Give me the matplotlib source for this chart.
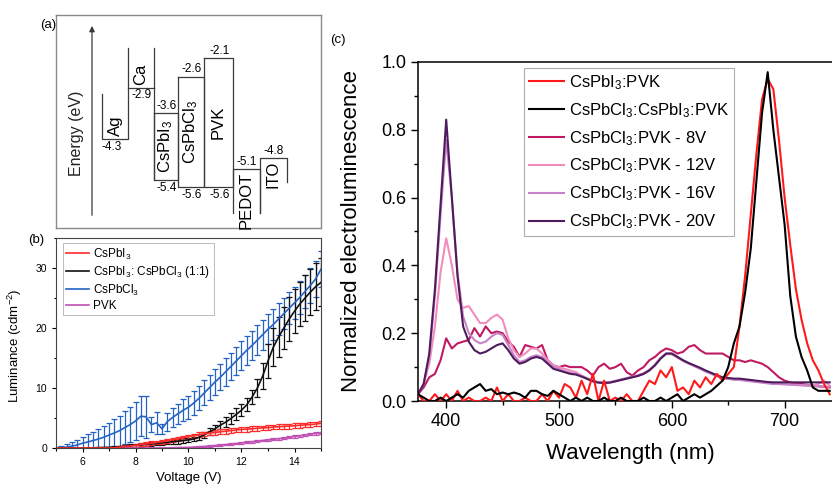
import matplotlib
matplotlib.use("Agg")
import matplotlib.pyplot as plt
from matplotlib.ticker import MultipleLocator, FormatStrFormatter

plt.rcParams['font.family'] = ['Liberation Sans', 'DejaVu Sans']
plt.rcParams['mathtext.fontset'] = 'custom'
plt.rcParams['mathtext.rm'] = 'Liberation Sans'
plt.rcParams['mathtext.default'] = 'regular'

# ---------------- (a) energy levels (eV) ----------------
layers = ['Ag', 'Ca', 'CsPbI$_3$', 'CsPbCl$_3$', 'PVK', 'PEDOT', 'ITO']
lumo = [None, None, -3.6, -2.6, -2.1, None, None]
homo = [None, None, -5.4, -5.6, -5.6, None, None]
work_fn = [-4.3, -2.9, None, None, None, -5.1, -4.8]

# ---------------- (b) luminance vs voltage ----------------
voltage = [5.0, 5.2, 5.4, 5.6, 5.8, 6.0, 6.2, 6.4, 6.6, 6.8, 7.0, 7.2, 7.4, 7.6, 7.8,
           8.0, 8.2, 8.4, 8.6, 8.8, 9.0, 9.2, 9.4, 9.6, 9.8, 10.0, 10.2, 10.4, 10.6, 10.8,
           11.0, 11.2, 11.4, 11.6, 11.8, 12.0, 12.2, 12.4, 12.6, 12.8, 13.0, 13.2, 13.4,
           13.6, 13.8, 14.0, 14.2, 14.4, 14.6, 14.8, 15.0]
lum_cl = [0.0, 0.05, 0.15, 0.3, 0.5, 0.8, 1.0, 1.25, 1.5, 1.8, 2.15, 2.5, 2.9, 3.4, 3.9,
          4.5, 5.3, 5.2, 3.9, 4.2, 3.2, 4.4, 5.1, 5.7, 6.3, 6.8, 7.5, 8.3, 9.2, 10.1,
          11.0, 11.8, 12.7, 13.6, 14.5, 15.4, 16.3, 17.1, 18.0, 18.9, 19.8, 20.6, 21.5,
          22.4, 23.3, 24.2, 25.1, 26.1, 27.1, 28.2, 29.8]
err_cl = [0.1, 0.3, 0.5, 0.7, 0.9, 1.1, 1.3, 1.5, 1.7, 1.9, 2.1, 2.3, 2.5, 2.7, 2.9,
          3.1, 3.3, 3.5, 1.2, 1.8, 0.8, 1.5, 1.6, 1.7, 1.8, 1.9, 2.0, 2.0, 2.1, 2.1,
          2.2, 2.2, 2.3, 2.3, 2.3, 2.4, 2.4, 2.4, 2.5, 2.5, 2.5, 2.6, 2.6, 2.6, 2.7,
          2.7, 2.8, 2.8, 2.9, 3.0, 3.0]
lum_mix = [0.0, 0.0, 0.0, 0.0, 0.0, 0.0, 0.0, 0.02, 0.05, 0.08, 0.1, 0.15, 0.2, 0.3, 0.4,
           0.45, 0.5, 0.6, 0.65, 0.75, 0.85, 0.95, 1.05, 1.15, 1.25, 1.35, 1.5, 1.8, 2.2, 2.7,
           3.2, 3.8, 4.3, 4.9, 5.6, 6.3, 7.2, 8.5, 10.0, 12.0, 14.5, 16.8, 18.5,
           20.0, 21.5, 22.8, 24.0, 25.0, 26.0, 26.9, 27.6]
err_mix = [0.0, 0.0, 0.0, 0.0, 0.0, 0.0, 0.0, 0.05, 0.05, 0.1, 0.1, 0.2, 0.2, 0.2, 0.25,
           0.25, 0.3, 0.3, 0.3, 0.3, 0.35, 0.35, 0.35, 0.4, 0.4, 0.4, 0.4, 0.5, 0.5, 0.6,
           0.6, 0.7, 0.8, 0.9, 1.0, 1.0, 1.1, 1.2, 1.5, 2.2, 2.8, 3.2, 3.3,
           3.5, 3.6, 3.7, 3.7, 3.8, 3.8, 3.9, 4.0]
lum_i = [0.0, 0.0, 0.0, 0.0, 0.0, 0.0, 0.0, 0.0, 0.0, 0.0, 0.0, 0.05, 0.15, 0.25, 0.35,
         0.45, 0.55, 0.68, 0.8, 0.92, 1.05, 1.2, 1.35, 1.5, 1.7, 1.9, 2.05, 2.2, 2.35, 2.5,
         2.6, 2.7, 2.8, 2.9, 3.0, 3.1, 3.15, 3.2, 3.3, 3.35, 3.4, 3.5, 3.55,
         3.6, 3.65, 3.7, 3.8, 3.85, 3.9, 4.0, 4.1]
err_i = [0.0, 0.0, 0.0, 0.0, 0.0, 0.0, 0.0, 0.0, 0.0, 0.0, 0.0, 0.1, 0.15, 0.2, 0.2,
         0.25, 0.25, 0.3, 0.3, 0.3, 0.3, 0.3, 0.35, 0.35, 0.35, 0.35, 0.35, 0.4, 0.4, 0.4,
         0.4, 0.4, 0.4, 0.4, 0.4, 0.4, 0.4, 0.4, 0.4, 0.4, 0.4, 0.4, 0.4,
         0.4, 0.4, 0.4, 0.4, 0.4, 0.4, 0.4, 0.4]
lum_pvk = [0.0, 0.0, 0.0, 0.0, 0.0, 0.0, 0.0, 0.0, 0.0, 0.0, 0.0, 0.0, 0.0, 0.0, 0.0,
           0.0, 0.0, 0.0, 0.0, 0.0, 0.0, 0.02, 0.04, 0.06, 0.08, 0.1, 0.15, 0.2, 0.25, 0.32,
           0.4, 0.48, 0.56, 0.65, 0.75, 0.85, 0.95, 1.05, 1.15, 1.25, 1.35, 1.45, 1.55,
           1.65, 1.78, 1.92, 2.05, 2.17, 2.3, 2.42, 2.55]
err_pvk = [0.0, 0.0, 0.0, 0.0, 0.0, 0.0, 0.0, 0.0, 0.0, 0.0, 0.0, 0.0, 0.0, 0.0, 0.0,
           0.0, 0.0, 0.0, 0.0, 0.0, 0.0, 0.05, 0.05, 0.05, 0.05, 0.08, 0.08, 0.1, 0.1, 0.1,
           0.12, 0.12, 0.12, 0.14, 0.14, 0.15, 0.15, 0.15, 0.16, 0.16, 0.17, 0.17, 0.18,
           0.18, 0.18, 0.19, 0.19, 0.2, 0.2, 0.2, 0.2]

# ---------------- (c) normalized EL spectra ----------------
wavelength = [375, 380, 385, 390, 395, 400, 405, 410, 415, 420, 425, 430, 435, 440, 445,
              450, 455, 460, 465, 470, 475, 480, 485, 490, 495, 500, 505, 510, 515, 520,
              525, 530, 535, 540, 545, 550, 555, 560, 565, 570, 575, 580, 585, 590, 595,
              600, 605, 610, 615, 620, 625, 630, 635, 640, 645, 650, 655, 660, 665, 670,
              675, 680, 685, 690, 695, 700, 705, 710, 715, 720, 725, 730, 735, 740]
el_i = [0.02, 0.0, 0.0, 0.02, 0.0, 0.02, 0.0, 0.03, 0.0, 0.01, 0.0, 0.0, 0.01, 0.0, 0.04,
        0.0, 0.02, 0.0, 0.0, 0.01, 0.0, 0.0, 0.02, 0.0, 0.03, 0.01, 0.05, 0.04, 0.01, 0.06,
        0.02, 0.08, 0.0, 0.06, 0.0, 0.01, 0.0, 0.02, 0.0, 0.0, 0.03, 0.06, 0.05, 0.09, 0.07,
        0.1, 0.03, 0.04, 0.02, 0.06, 0.04, 0.07, 0.05, 0.08, 0.06, 0.08, 0.1, 0.22, 0.37, 0.55,
        0.73, 0.89, 0.95, 0.92, 0.77, 0.6, 0.46, 0.33, 0.24, 0.17, 0.12, 0.09, 0.05, 0.02]
el_mix = [0.02, 0.01, 0.0, 0.0, 0.01, 0.0, 0.01, 0.02, 0.01, 0.03, 0.04, 0.05, 0.03, 0.035, 0.02,
          0.025, 0.02, 0.025, 0.02, 0.01, 0.03, 0.03, 0.02, 0.015, 0.03, 0.02, 0.01, 0.0, 0.01, 0.0,
          0.01, 0.0, 0.0, 0.01, 0.0, 0.0, 0.01, 0.0, 0.0, 0.0, 0.01, 0.0, 0.0, 0.01, 0.0,
          0.01, 0.02, 0.0, 0.01, 0.02, 0.01, 0.02, 0.03, 0.045, 0.06, 0.1, 0.17, 0.22, 0.32, 0.45,
          0.65, 0.85, 0.97, 0.8, 0.66, 0.52, 0.31, 0.19, 0.13, 0.09, 0.04, 0.03, 0.03, 0.03]
el_8v = [0.02, 0.04, 0.07, 0.08, 0.12, 0.185, 0.155, 0.17, 0.175, 0.18, 0.215, 0.19, 0.22, 0.2, 0.205,
         0.2, 0.175, 0.16, 0.13, 0.165, 0.16, 0.155, 0.165, 0.12, 0.105, 0.1, 0.105, 0.1, 0.1, 0.1,
         0.09, 0.075, 0.1, 0.11, 0.095, 0.1, 0.11, 0.085, 0.075, 0.09, 0.1, 0.12, 0.13, 0.145, 0.155,
         0.15, 0.14, 0.145, 0.16, 0.165, 0.15, 0.14, 0.14, 0.14, 0.14, 0.13, 0.12, 0.12, 0.115, 0.12,
         0.115, 0.11, 0.1, 0.085, 0.07, 0.06, 0.055, 0.05, 0.05, 0.048, 0.045, 0.043, 0.042, 0.04]
el_12v = [0.02, 0.05, 0.11, 0.22, 0.38, 0.48, 0.4, 0.3, 0.275, 0.28, 0.255, 0.23, 0.23, 0.245, 0.255,
          0.24, 0.185, 0.15, 0.13, 0.14, 0.155, 0.155, 0.14, 0.12, 0.105, 0.1, 0.095, 0.09, 0.085, 0.075,
          0.067, 0.06, 0.055, 0.054, 0.055, 0.058, 0.062, 0.066, 0.07, 0.074, 0.08, 0.09, 0.105, 0.125, 0.138,
          0.138, 0.128, 0.118, 0.11, 0.103, 0.096, 0.088, 0.081, 0.074, 0.068, 0.066, 0.064, 0.063, 0.062, 0.06,
          0.058, 0.056, 0.054, 0.052, 0.05, 0.05, 0.049, 0.048, 0.047, 0.046, 0.046, 0.05, 0.06, 0.045]
el_16v = [0.02, 0.05, 0.13, 0.31, 0.55, 0.77, 0.6, 0.38, 0.25, 0.2, 0.18, 0.17, 0.175, 0.19, 0.2,
          0.195, 0.165, 0.135, 0.115, 0.12, 0.13, 0.135, 0.13, 0.115, 0.1, 0.095, 0.088, 0.083, 0.08, 0.074,
          0.067, 0.06, 0.056, 0.055, 0.056, 0.06, 0.064, 0.068, 0.072, 0.076, 0.082, 0.092, 0.107, 0.127, 0.14,
          0.14, 0.13, 0.12, 0.111, 0.103, 0.095, 0.087, 0.08, 0.073, 0.068, 0.065, 0.063, 0.062, 0.06, 0.058,
          0.056, 0.054, 0.052, 0.05, 0.05, 0.049, 0.048, 0.047, 0.046, 0.045, 0.045, 0.044, 0.043, 0.042]
el_20v = [0.02, 0.05, 0.14, 0.33, 0.58, 0.83, 0.6, 0.37, 0.22, 0.175, 0.15, 0.14, 0.145, 0.155, 0.165,
          0.17, 0.15, 0.125, 0.11, 0.115, 0.125, 0.13, 0.125, 0.11, 0.095, 0.09, 0.085, 0.08, 0.078, 0.072,
          0.065, 0.058, 0.054, 0.053, 0.054, 0.058, 0.062, 0.066, 0.07, 0.074, 0.08, 0.09, 0.105, 0.125, 0.14,
          0.14, 0.13, 0.12, 0.112, 0.105, 0.098, 0.09, 0.083, 0.076, 0.07, 0.068, 0.066, 0.066, 0.064, 0.062,
          0.06, 0.058, 0.056, 0.055, 0.055, 0.055, 0.055, 0.055, 0.055, 0.055, 0.055, 0.055, 0.055, 0.055]

fig = plt.figure(figsize=(8.32, 4.84), dpi=100)
W, H = 832, 484


def px_axes(left, top, right, bottom):
    return fig.add_axes([left / W, 1 - bottom / H, (right - left) / W, (bottom - top) / H])


# ======================= panel (a) =======================
ax_a = px_axes(56, 15, 321, 228)
ax_a.set_xlim(0, 265)
ax_a.set_ylim(-6.71, -0.93)
ax_a.set_xticks([])
ax_a.set_yticks([])
for s in ax_a.spines.values():
    s.set_color('#8a8a8a')
    s.set_linewidth(1.0)

lc = '#3a3a3a'
lw = 0.9
# column edges (layout only)
edges = [46, 72, 98, 122, 148, 177, 204, 231]
open_top = -1.83

# Ag
ax_a.plot([edges[0], edges[0], edges[1], edges[1]], [-3.08, work_fn[0], work_fn[0], open_top], color=lc, lw=lw)
# Ca
ax_a.plot([edges[1], edges[2]], [work_fn[1], work_fn[1]], color=lc, lw=lw)
ax_a.plot([edges[2], edges[2]], [open_top, homo[2]], color=lc, lw=lw)
# perovskites and PVK boxes
for i in (2, 3, 4):
    x0, x1 = edges[i], edges[i + 1]
    ax_a.plot([x0, x1, x1, x0, x0], [lumo[i], lumo[i], homo[i], homo[i], lumo[i]], color=lc, lw=lw)
# PEDOT
ax_a.plot([edges[5], edges[5], edges[6], edges[6]], [-6.31, work_fn[5], work_fn[5], -6.31], color=lc, lw=lw)
# ITO
ax_a.plot([edges[6], edges[6], edges[7], edges[7]], [-6.31, work_fn[6], work_fn[6], -5.46], color=lc, lw=lw)

# arrow
ax_a.annotate('', xy=(36, -1.15), xytext=(36, -6.44),
              arrowprops=dict(arrowstyle='-|>', color=lc, lw=0.9, mutation_scale=8))
ax_a.text(21, -4.13, 'Energy (eV)', rotation=90, ha='center', va='center', fontsize=11.5, color='#222')

vfs = 8.5
ax_a.text(edges[0], work_fn[0] - 0.05, '-4.3', ha='left', va='top', fontsize=vfs)
ax_a.text((edges[1] + edges[2]) / 2 + 1, work_fn[1] - 0.05, '-2.9', ha='center', va='top', fontsize=vfs)
for i in (2, 3, 4):
    cx = (edges[i] + edges[i + 1]) / 2 + 1
    ax_a.text(cx, lumo[i] + 0.03, f'{lumo[i]:.1f}', ha='center', va='bottom', fontsize=vfs)
    ax_a.text(cx, homo[i] - 0.05, f'{homo[i]:.1f}', ha='center', va='top', fontsize=vfs)
ax_a.text((edges[5] + edges[6]) / 2, work_fn[5] + 0.03, '-5.1', ha='center', va='bottom', fontsize=vfs)
ax_a.text((edges[6] + edges[7]) / 2, work_fn[6] + 0.03, '-4.8', ha='center', va='bottom', fontsize=vfs)

lfs = 12
ax_a.text((edges[0] + edges[1]) / 2, work_fn[0] + 0.08, layers[0], rotation=90, ha='center', va='bottom', fontsize=lfs)
ax_a.text((edges[1] + edges[2]) / 2, work_fn[1] + 0.08, layers[1], rotation=90, ha='center', va='bottom', fontsize=lfs)
for i in (2, 3, 4):
    ax_a.text((edges[i] + edges[i + 1]) / 2, (lumo[i] + homo[i]) / 2, layers[i], rotation=90,
              ha='center', va='center', fontsize=lfs)
ax_a.text((edges[5] + edges[6]) / 2, work_fn[5] - 0.08, layers[5], rotation=90, ha='center', va='top', fontsize=lfs)
ax_a.text((edges[6] + edges[7]) / 2, work_fn[6] - 0.08, layers[6], rotation=90, ha='center', va='top', fontsize=lfs)

fig.text(40 / W, 1 - 25 / H, '(a)', fontsize=9.5, ha='left', va='center')

# ======================= panel (b) =======================
ax_b = px_axes(56, 238, 321, 448)
series_b = [
    (lum_pvk, err_pvk, '#c04fb4', 'PVK'),
    (lum_cl, err_cl, '#2463c4', 'CsPbCl$_3$'),
    (lum_mix, err_mix, '#111111', 'CsPbI$_3$: CsPbCl$_3$ (1:1)'),
    (lum_i, err_i, '#ff2a2a', 'CsPbI$_3$'),
]
handles = {}
for vals, errs, col, lab in series_b:
    eb = ax_b.errorbar(voltage, vals, yerr=errs, color=col, lw=1.2, elinewidth=0.9,
                       capsize=2.0, capthick=0.9, label=lab)
    handles[lab] = eb[0]
order = ['CsPbI$_3$', 'CsPbI$_3$: CsPbCl$_3$ (1:1)', 'CsPbCl$_3$', 'PVK']
leg_b = ax_b.legend([handles[k] for k in order], order, loc='upper left', bbox_to_anchor=(0.026, 0.976),
                    borderaxespad=0, fontsize=8.5, frameon=True, fancybox=False, edgecolor='#aaaaaa',
                    handlelength=1.9, handletextpad=0.35, labelspacing=0.2, borderpad=0.3)
leg_b.get_frame().set_linewidth(0.7)
ax_b.set_xlim(5, 15)
ax_b.set_ylim(0, 35)
ax_b.xaxis.set_major_locator(MultipleLocator(2))
ax_b.xaxis.set_minor_locator(MultipleLocator(1))
ax_b.yaxis.set_major_locator(MultipleLocator(10))
ax_b.yaxis.set_minor_locator(MultipleLocator(5))
ax_b.tick_params(which='both', direction='out', labelsize=7.5, width=0.8)
ax_b.tick_params(which='major', length=3)
ax_b.tick_params(which='minor', length=1.8)
for s in ax_b.spines.values():
    s.set_linewidth(0.8)
    s.set_color('#444')
ax_b.set_ylabel('Luminance (cdm$^{-2}$)', fontsize=9.5)
ax_b.set_xlabel('Voltage (V)', fontsize=9.5)
ax_b.yaxis.set_label_coords(-0.12, 0.486)
ax_b.xaxis.set_label_coords(0.5, -0.112)
fig.text(28 / W, 1 - 240 / H, '(b)', fontsize=9.5, ha='left', va='center')

# ======================= panel (c) =======================
ax_c = px_axes(418, 62, 832, 401)
series_c = [
    (el_i, '#ff1a1a', 'CsPbI$_3$:PVK'),
    (el_mix, '#000000', 'CsPbCl$_3$:CsPbI$_3$:PVK'),
    (el_8v, '#c01a62', 'CsPbCl$_3$:PVK - 8V'),
    (el_12v, '#f28cbc', 'CsPbCl$_3$:PVK - 12V'),
    (el_16v, '#c684c8', 'CsPbCl$_3$:PVK - 16V'),
    (el_20v, '#4e1c5c', 'CsPbCl$_3$:PVK - 20V'),
]
lines = []
for vals, col, lab in series_c:
    ln, = ax_c.plot(wavelength, vals, color=col, lw=1.5, label=lab)
    lines.append(ln)
# red and black drawn above the other curves
lines[0].set_zorder(3)
lines[1].set_zorder(3.1)
leg_c = ax_c.legend(lines, [l.get_label() for l in lines], loc='upper left',
                    bbox_to_anchor=(0.256, 0.982), borderaxespad=0, fontsize=12,
                    frameon=True, fancybox=False, edgecolor='#999999', handlelength=2.1,
                    handletextpad=0.3, labelspacing=0.55, borderpad=0.3)
leg_c.get_frame().set_linewidth(0.8)
ax_c.set_xlim(375, 742)
ax_c.set_ylim(0, 1.0)
ax_c.xaxis.set_major_locator(MultipleLocator(100))
ax_c.xaxis.set_minor_locator(MultipleLocator(50))
ax_c.yaxis.set_major_locator(MultipleLocator(0.2))
ax_c.yaxis.set_minor_locator(MultipleLocator(0.1))
ax_c.yaxis.set_major_formatter(FormatStrFormatter('%.1f'))
ax_c.tick_params(which='both', direction='out', labelsize=13, width=1.0)
ax_c.tick_params(which='major', length=5)
ax_c.tick_params(which='minor', length=3)
ax_c.spines['right'].set_visible(False)
for s in ('left', 'bottom', 'top'):
    ax_c.spines[s].set_linewidth(1.1)
ax_c.set_ylabel('Normalized electroluminescence', fontsize=16)
ax_c.set_xlabel('Wavelength (nm)', fontsize=16)
ax_c.yaxis.set_label_coords(-0.135, 0.5)
ax_c.xaxis.set_label_coords(0.512, -0.124)
fig.text(330 / W, 1 - 40 / H, '(c)', fontsize=9.5, ha='left', va='center')

fig.savefig('out.png', dpi=100)
